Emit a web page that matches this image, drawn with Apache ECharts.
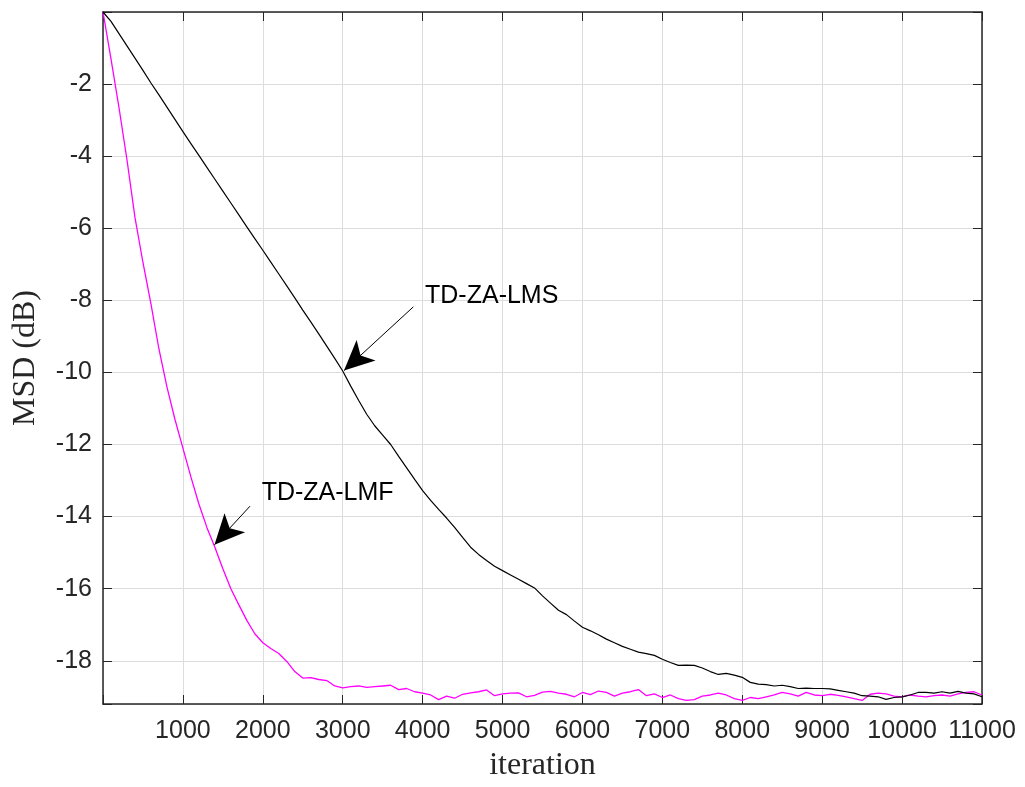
<!DOCTYPE html>
<html>
<head>
<meta charset="utf-8">
<script src="https://cdn.jsdelivr.net/npm/echarts@6/dist/echarts.min.js"></script>
<style>
  html, body { margin: 0; padding: 0; background: #fff; }
  #main { width: 1025px; height: 787px; }
</style>
</head>
<body>
<div id="main"></div>
<script>
  // iteration grid: one sample every 100 iterations, 0..11000
  var STEP = 100

  // TD-ZA-LMF (magenta)
  var lmf = [
    0, -1.3, -2.65, -4.1, -5.7, -6.95, -8.1, -9.35, -10.4, -11.3,
    -12.1, -12.9, -13.65, -14.3, -14.85, -15.45, -16.0, -16.45, -16.88, -17.25,
    -17.5, -17.66, -17.8, -18.02, -18.3, -18.48, -18.47, -18.52, -18.55, -18.7,
    -18.75, -18.72, -18.7, -18.74, -18.72, -18.7, -18.68, -18.8, -18.77, -18.86,
    -18.9, -18.95, -19.08, -18.98, -19.04, -18.93, -18.89, -18.86, -18.81, -18.97,
    -18.92, -18.9, -18.89, -19.0, -18.96, -18.87, -18.85, -18.9, -18.93, -19.0,
    -18.88, -18.94, -18.84, -18.88, -18.98, -18.9, -18.86, -18.8, -18.97, -18.92,
    -19.02, -18.95, -19.05, -19.1, -19.08, -18.98, -18.95, -18.9, -18.95, -19.05,
    -19.1, -19.02, -19.05, -19.0, -18.95, -18.88, -18.92, -18.98, -18.88, -18.95,
    -18.97, -18.93, -18.96, -19.0, -19.05, -19.1, -18.93, -18.9, -18.92, -18.98,
    -19.0, -18.95, -18.98, -19.0, -18.97, -18.95, -18.98, -18.92, -18.88, -18.86,
    -18.95
  ]

  // TD-ZA-LMS (black)
  var lms = [
    0, -0.26, -0.6, -0.94, -1.28, -1.62, -1.97, -2.3, -2.64, -2.98,
    -3.32, -3.65, -3.98, -4.31, -4.64, -4.97, -5.3, -5.63, -5.96, -6.29,
    -6.61, -6.94, -7.27, -7.6, -7.93, -8.27, -8.6, -8.93, -9.27, -9.61,
    -9.96, -10.38, -10.78, -11.16, -11.48, -11.74, -12.0, -12.33, -12.65, -12.97,
    -13.28, -13.55, -13.8, -14.04, -14.3, -14.58, -14.85, -15.05, -15.22, -15.38,
    -15.5, -15.62, -15.74, -15.86, -15.98, -16.2, -16.4, -16.6, -16.72, -16.9,
    -17.07, -17.17, -17.28, -17.4, -17.5, -17.6, -17.68, -17.76, -17.8, -17.85,
    -17.96, -18.05, -18.13, -18.12, -18.13, -18.2, -18.3, -18.38, -18.35, -18.4,
    -18.46, -18.6, -18.65, -18.66, -18.7, -18.68, -18.72, -18.77, -18.76, -18.77,
    -18.77, -18.78, -18.82, -18.86, -18.9, -18.97, -18.98, -19.0, -19.07, -19.02,
    -19.0, -18.95, -18.88, -18.88, -18.9, -18.86, -18.9, -18.85, -18.9, -18.92,
    -19.0
  ]

  // annotations: arrow [from, to] and text anchor (left / middle)
  var arrowLMS = [[3884, -8.18], [3016, -9.95]]
  var textLMS = [4030, -7.87]
  var arrowLMF = [[1840, -13.71], [1395, -14.78]]
  var textLMF = [1986, -13.36]

  var xRange = [0, 11000]
  var yRange = [-19.2, 0]

  function toPairs(arr) {
    return arr.map(function (v, i) { return [i * STEP, v] })
  }

  var axisColor = '#262626'
  var labelFont = { color: axisColor, fontSize: 25, fontFamily: 'Liberation Sans, Arial, sans-serif' }
  var nameFont = { color: axisColor, fontSize: 32, fontFamily: 'Liberation Serif, Times New Roman, serif' }
  var tickIn = { show: true, inside: true, length: 9, lineStyle: { color: axisColor, width: 1 } }
  var lineAx = { show: true, onZero: false, lineStyle: { color: axisColor, width: 1.5 } }
  var gridLine = { show: true, lineStyle: { color: '#dcdcdc', width: 1 } }

  function annotate(arrow, textPos, text) {
    return {
      markLine: {
        silent: true,
        animation: false,
        symbol: ['none', 'arrow'],
        symbolSize: [21, 30],
        lineStyle: { color: '#000', width: 1, type: 'solid' },
        label: { show: false },
        emphasis: { disabled: true },
        data: [[{ coord: arrow[0] }, { coord: arrow[1] }]]
      },
      markPoint: {
        silent: true,
        animation: false,
        symbol: 'circle',
        symbolSize: 0,
        label: {
          show: true,
          position: 'right',
          distance: 0,
          color: '#000',
          fontSize: 25,
          fontFamily: 'Liberation Sans, Arial, sans-serif',
          formatter: text
        },
        data: [{ coord: textPos }]
      }
    }
  }

  var myChart = echarts.init(document.getElementById('main'))

  var lmfSeries = Object.assign({
    name: 'TD-ZA-LMF',
    type: 'line',
    data: toPairs(lmf),
    showSymbol: false,
    symbol: 'none',
    lineStyle: { color: '#ff00ff', width: 1.3 },
    itemStyle: { color: '#ff00ff' },
    z: 3
  }, annotate(arrowLMF, textLMF, 'TD-ZA-LMF'))

  var lmsSeries = Object.assign({
    name: 'TD-ZA-LMS',
    type: 'line',
    data: toPairs(lms),
    showSymbol: false,
    symbol: 'none',
    lineStyle: { color: '#000000', width: 1.2 },
    itemStyle: { color: '#000000' },
    z: 4
  }, annotate(arrowLMS, textLMS, 'TD-ZA-LMS'))

  var option = {
    backgroundColor: '#ffffff',
    animation: false,
    grid: { left: 103, right: 43, top: 12, bottom: 81, containLabel: false },
    xAxis: [{
      type: 'value',
      min: xRange[0],
      max: xRange[1],
      interval: 1000,
      name: 'iteration',
      nameLocation: 'middle',
      nameGap: 46,
      nameTextStyle: nameFont,
      axisLine: lineAx,
      axisTick: tickIn,
      axisLabel: Object.assign({ margin: 15, formatter: function (v) { return v === 0 ? '' : v } }, labelFont),
      splitLine: gridLine
    }, {
      type: 'value',
      position: 'top',
      min: xRange[0],
      max: xRange[1],
      interval: 1000,
      axisLine: lineAx,
      axisTick: tickIn,
      axisLabel: { show: false },
      splitLine: { show: false }
    }],
    yAxis: [{
      type: 'value',
      min: yRange[0],
      max: yRange[1],
      splitNumber: 10,
      minInterval: 2,
      maxInterval: 2,
      name: 'MSD (dB)',
      nameLocation: 'middle',
      nameGap: 61,
      nameTextStyle: nameFont,
      axisLine: lineAx,
      axisTick: tickIn,
      axisLabel: Object.assign({
        margin: 11,
        formatter: function (v) { return (v % 2 === 0 && v !== 0) ? v : '' }
      }, labelFont),
      splitLine: gridLine
    }, {
      type: 'value',
      position: 'right',
      min: yRange[0],
      max: yRange[1],
      splitNumber: 10,
      minInterval: 2,
      maxInterval: 2,
      axisLine: lineAx,
      axisTick: tickIn,
      axisLabel: { show: false },
      splitLine: { show: false }
    }],
    series: [lmfSeries, lmsSeries]
  }
  myChart.setOption(option)
</script>
</body>
</html>
